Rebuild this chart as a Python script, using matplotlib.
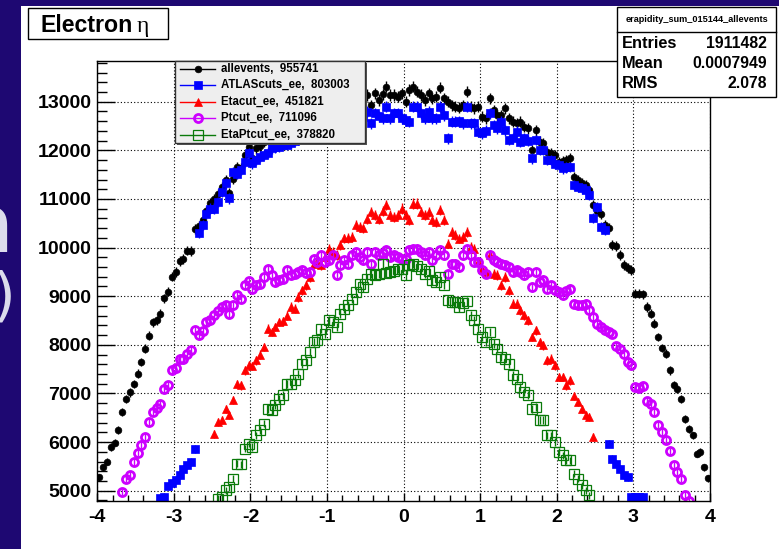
import numpy as np
import matplotlib.pyplot as plt
from matplotlib.patches import Rectangle
from matplotlib.lines import Line2D
from matplotlib.ticker import MultipleLocator

plt.rcParams['font.family'] = ['Liberation Sans', 'DejaVu Sans']
plt.rcParams['axes.unicode_minus'] = False

W, H = 779, 549

# electron eta, 160 bins from -4 to 4 (None = empty / below the frame)
allevents = [
    5279, 5485, 5600, 5900, 5990, 6250, 6610, 6890, 7020, 7190,
    7410, 7650, 7920, 8185, 8460, 8510, 8640, 8960, 9090, 9405,
    9495, 9720, 9760, 9940, 9930, 10380, 10440, 10560, 10760, 10920,
    11000, 11110, 11250, 11390, 11130, 11420, 11660, 11630, 11900, 12060,
    11850, 12040, 12080, 12180, 12230, 12290, 12350, 12400, 12460, 12500,
    12560, 12590, 12640, 12680, 12700, 12760, 12790, 12830, 12850, 12880,
    12900, 12940, 12960, 12980, 13010, 13020, 13050, 13070, 13090, 13080,
    13138, 12932, 13173, 13035, 13150, 13309, 13138, 13138, 13100, 13173,
    13000, 13240, 13309, 13206, 13138, 13035, 13173, 13070, 13103, 13288,
    13070, 13000, 12932, 12897, 12876, 12932, 13206, 12897, 12864, 12897,
    12691, 12658, 13070, 12829, 12726, 12726, 12864, 12658, 12588, 12555,
    12590, 12486, 12452, 12005, 12417, 12176, 12142, 11970, 11937, 11903,
    11765, 11780, 11800, 11835, 11456, 11388, 11320, 11285, 11182, 10873,
    10750, 10700, 10461, 10400, 10060, 10040, 9844, 9638, 9580, 9535,
    9055, 9055, 9040, 8779, 8643, 8437, 8161, 7935, 7819, 7476,
    7167, 7099, 6893, 6481, 6275, 6137, 5760, 5794, 5485, 5258,
]

atlascuts_ee = [
    None, None, None, None, None, None, None, None, None, None,
    None, None, None, None, None, None, 4840, 4880, 5090, 5150,
    5220, 5320, 5450, 5520, 5600, 5860, 10290, 10461, 10700, 10804,
    10804, 10941, 11147, 11320, 11010, 11559, 11524, 11593, 11765, 11936,
    11730, 11800, 11870, 11903, 11950, 12040, 12060, 12073, 12108, 12120,
    12142, 12200, 12230, 12260, 12300, 12330, 12360, 12400, 12430, 12450,
    12480, 12500, 12530, 12550, 12580, 12600, 12620, 12640, 12660, 12690,
    12794, 12555, 12760, 12700, 12658, 12897, 12658, 12760, 12760, 12658,
    12620, 12588, 12897, 12897, 12760, 12658, 12794, 12658, 12658, 12897,
    12726, 12246, 12588, 12588, 12600, 12560, 12897, 12555, 12555, 12382,
    12349, 12400, 12760, 12520, 12452, 12588, 12417, 12211, 12246, 12382,
    12176, 12246, 12200, 11835, 12211, 12005, 12005, 11800, 11800, 11720,
    11700, 11628, 11650, 11662, 11285, 11250, 11217, 11182, 11080, 10600,
    10838, 10426, 10358, 5966, 5657, 5554, 5451, 5314, 5279, 4870,
    4870, 4870, 4870, None, None, None, None, None, None, None,
    None, None, None, None, None, None, None, None, None, None,
]

etacut_ee = [
    None, None, None, None, None, None, None, None, None, None,
    None, None, None, None, None, None, None, None, None, None,
    None, None, None, None, None, None, None, None, None, None,
    6171, 6412, 6446, 6686, 6549, 6858, 7200, 7166, 7475, 7578,
    7560, 7681, 7800, 7955, 8333, 8264, 8367, 8470, 8480, 8600,
    8779, 8745, 8985, 9123, 9226, 9397, 9672, 9706, 9638, 9800,
    9981, 9912, 9850, 10050, 10188, 10200, 10222, 10461, 10426, 10393,
    10598, 10735, 10667, 10598, 10750, 10873, 10667, 10632, 10667, 10804,
    10667, 10564, 10907, 10907, 10735, 10667, 10735, 10564, 10529, 10770,
    10564, 10084, 10323, 10255, 10187, 10220, 10324, 10015, 9981, 9706,
    9570, 9500, 9844, 9467, 9432, 9226, 9397, 9123, 8849, 8849,
    8711, 8608, 8505, 8161, 8299, 8059, 7990, 7681, 7715, 7578,
    7338, 7338, 7166, 7269, 6947, 6823, 6686, 6549, 6515, 6103,
    None, None, None, None, None, None, None, None, None, None,
    None, None, None, None, None, None, None, None, None, None,
    None, None, None, None, None, None, None, None, None, None,
]

ptcut_ee = [
    None, None, None, None, None, None, 4972, 5247, 5329, 5589,
    5782, 5947, 6103, 6412, 6618, 6700, 6790, 7098, 7167, 7476,
    7523, 7716, 7702, 7819, 7887, 8298, 8195, 8278, 8470, 8505,
    8608, 8690, 8779, 8813, 8643, 8814, 9034, 8951, 9240, 9308,
    9157, 9226, 9261, 9400, 9570, 9432, 9295, 9330, 9364, 9535,
    9432, 9467, 9500, 9535, 9480, 9500, 9775, 9706, 9844, 9706,
    9741, 9844, 9432, 9638, 9741, 9672, 9844, 9912, 9800, 9741,
    9912, 9672, 9912, 9844, 9880, 9947, 9810, 9844, 9810, 9775,
    9775, 9947, 9981, 9981, 9912, 9844, 9912, 9741, 9844, 9947,
    9844, 9467, 9672, 9672, 9603, 9844, 9981, 9844, 9706, 9706,
    9535, 9467, 9844, 9741, 9706, 9672, 9638, 9603, 9500, 9535,
    9500, 9432, 9500, 9192, 9500, 9295, 9330, 9157, 9226, 9123,
    9089, 9020, 9100, 9157, 8849, 8814, 8828, 8849, 8711, 8574,
    8437, 8368, 8299, 8265, 8230, 7976, 7922, 7819, 7647, 7578,
    7133, 7112, 7154, 6839, 6790, 6618, 6359, 6207, 6036, 5810,
    5521, 5383, 5247, 4918, 4780, None, None, None, None, None,
]

etaptcut_ee = [
    None, None, None, None, None, None, None, None, None, None,
    None, None, None, None, None, None, None, None, None, None,
    None, None, None, None, None, None, None, None, None, None,
    None, 4835, 4868, 5006, 5074, 5247, 5556, 5541, 5864, 5967,
    5898, 6139, 6242, 6380, 6686, 6652, 6755, 6893, 6961, 7201,
    7201, 7269, 7406, 7612, 7681, 7853, 8059, 8093, 8333, 8230,
    8505, 8470, 8367, 8643, 8746, 8814, 8951, 9089, 9261, 9192,
    9364, 9467, 9446, 9467, 9672, 9487, 9500, 9514, 9570, 9570,
    9432, 9638, 9672, 9623, 9560, 9467, 9514, 9330, 9295, 9398,
    9240, 8917, 8882, 8882, 8779, 8870, 8896, 8608, 8505, 8333,
    8161, 8059, 8264, 8024, 7922, 7750, 7716, 7612, 7372, 7304,
    7132, 7029, 6961, 6686, 6720, 6446, 6446, 6138, 6138, 6000,
    5794, 5726, 5623, 5623, 5349, 5246, 5108, 5006, 4903, None,
    None, None, None, None, None, None, None, None, None, None,
    None, None, None, None, None, None, None, None, None, None,
    None, None, None, None, None, None, None, None, None, None,
]

labels = ['allevents,  955741', 'ATLAScuts_ee,  803003', 'Etacut_ee,  451821',
          'Ptcut_ee,  711096', 'EtaPtcut_ee,  378820']
stats_name = 'erapidity_sum_015144_allevents'
stats_rows = [('Entries', '1911482'), ('Mean', '0.0007949'), ('RMS', '2.078')]

edges = np.linspace(-4, 4, 161)
centers = 0.5 * (edges[:-1] + edges[1:])

# marker style per histogram
styles = [
    dict(marker='o', ms=4.8, color='black', mfc='black', mew=0.5),
    dict(marker='s', ms=5.2, color='#0000ff', mfc='#0000ff', mew=0.5),
    dict(marker='^', ms=5.4, color='#ff0000', mfc='#ff0000', mew=0.5),
    dict(marker='o', ms=5.8, color='#cc00ff', mfc='none', mew=2.0),
    dict(marker='s', ms=6.8, color='#0a7a0a', mfc='none', mew=0.9),
]


def fx(px):
    return px / W


def fy(py):
    return 1 - py / H


fig = plt.figure(figsize=(W / 100, H / 100), dpi=100)
fig.patch.set_facecolor('#1e0872')

# bits of slide text peeking out on the left
fig.text(fx(14), fy(252), 'n', ha='right', va='baseline', fontsize=58,
         color='#dcdcec', family='DejaVu Sans', zorder=-3)
fig.text(fx(15), fy(314), ')', ha='right', va='baseline', fontsize=42,
         color='#dcdcec', family='DejaVu Sans', zorder=-3)
fig.add_artist(Rectangle((fx(21), 0), 1 - fx(21), fy(6), transform=fig.transFigure,
                         facecolor='white', edgecolor='none', zorder=-1))

ax = fig.add_axes([fx(97.3), fy(501), fx(710) - fx(97.3), fy(61) - fy(501)])
ax.set_xlim(-4, 4)
ax.set_ylim(4788, 13838)

for vals, st in zip([allevents, atlascuts_ee, etacut_ee, ptcut_ee, etaptcut_ee], styles):
    y = np.array(vals, dtype=float)
    ax.errorbar(centers, y, yerr=np.sqrt(y), fmt='none', ecolor=st['color'],
                elinewidth=1, capsize=0)
    ax.plot(centers, y, linestyle='none', marker=st['marker'], ms=st['ms'],
            mfc=st['mfc'], mec=st['color'], mew=st['mew'])

ax.set_xticks(range(-4, 5))
ax.xaxis.set_minor_locator(MultipleLocator(0.2))
ax.set_yticks(range(5000, 14000, 1000))
ax.yaxis.set_minor_locator(MultipleLocator(200))
ax.tick_params(axis='both', which='both', direction='in', top=False, right=False,
               width=1, color='black')
ax.tick_params(axis='y', which='major', length=13, pad=4)
ax.tick_params(axis='y', which='minor', length=7)
ax.tick_params(axis='x', which='major', length=6, pad=6)
ax.tick_params(axis='x', which='minor', length=4)
for lab in ax.get_xticklabels() + ax.get_yticklabels():
    lab.set_fontsize(14)
    lab.set_fontweight('bold')
ax.grid(True, which='major', linestyle=(0, (1, 2)), color='black', linewidth=0.8)
for sp in ax.spines.values():
    sp.set_linewidth(1)

# title box
fig.add_artist(Rectangle((fx(28), fy(39)), fx(168) - fx(28), fy(8) - fy(39),
                         transform=fig.transFigure, facecolor='white',
                         edgecolor='black', lw=1, zorder=5))
fig.text(fx(40.5), fy(32.3), 'Electron', fontsize=16.7, weight='bold',
         va='baseline', zorder=6)
fig.text(fx(137), fy(32.3), 'η', fontsize=17, family='Liberation Serif',
         va='baseline', zorder=6)

# legend box with shadow
lx0, lx1, ly0, ly1 = 175, 365, 61, 143
fig.add_artist(Rectangle((fx(lx0 + 2), fy(ly1 + 2)), fx(lx1) - fx(lx0), fy(ly0) - fy(ly1),
                         transform=fig.transFigure, facecolor='#555555',
                         edgecolor='none', zorder=5))
fig.add_artist(Rectangle((fx(lx0), fy(ly1)), fx(lx1) - fx(lx0), fy(ly0) - fy(ly1),
                         transform=fig.transFigure, facecolor='#eeeeee',
                         edgecolor='#333333', lw=1, zorder=5))
for i, (lab, st) in enumerate(zip(labels, styles)):
    yy = 68.5 + i * 16.5
    fig.add_artist(Line2D([fx(180), fx(215)], [fy(yy), fy(yy)], transform=fig.transFigure,
                          color=st['color'], lw=1, zorder=6))
    fig.add_artist(Line2D([fx(197.7)], [fy(yy)], transform=fig.transFigure,
                          linestyle='none', marker=st['marker'], ms=st['ms'],
                          mfc=st['mfc'], mec=st['color'], mew=st['mew'], zorder=6))
    fig.text(fx(221.5), fy(yy), lab, fontsize=8.3, weight='bold', va='center', zorder=6)

# stats box
fig.add_artist(Rectangle((fx(617), fy(97)), fx(776) - fx(617), fy(7) - fy(97),
                         transform=fig.transFigure, facecolor='white',
                         edgecolor='black', lw=1, zorder=5))
fig.add_artist(Line2D([fx(617), fx(776)], [fy(31.7), fy(31.7)], transform=fig.transFigure,
                      color='black', lw=1, zorder=6))
fig.text(fx(696.5), fy(19.5), stats_name, fontsize=6.6, weight='bold',
         ha='center', va='center', zorder=6)
for i, (name, val) in enumerate(stats_rows):
    yy = 43 + i * 20.3
    fig.text(fx(621.5), fy(yy), name, fontsize=11.8, weight='bold', va='center', zorder=6)
    fig.text(fx(767), fy(yy), val, fontsize=11.3, weight='bold', ha='right',
             va='center', zorder=6)

fig.savefig('out.png', dpi=100)
